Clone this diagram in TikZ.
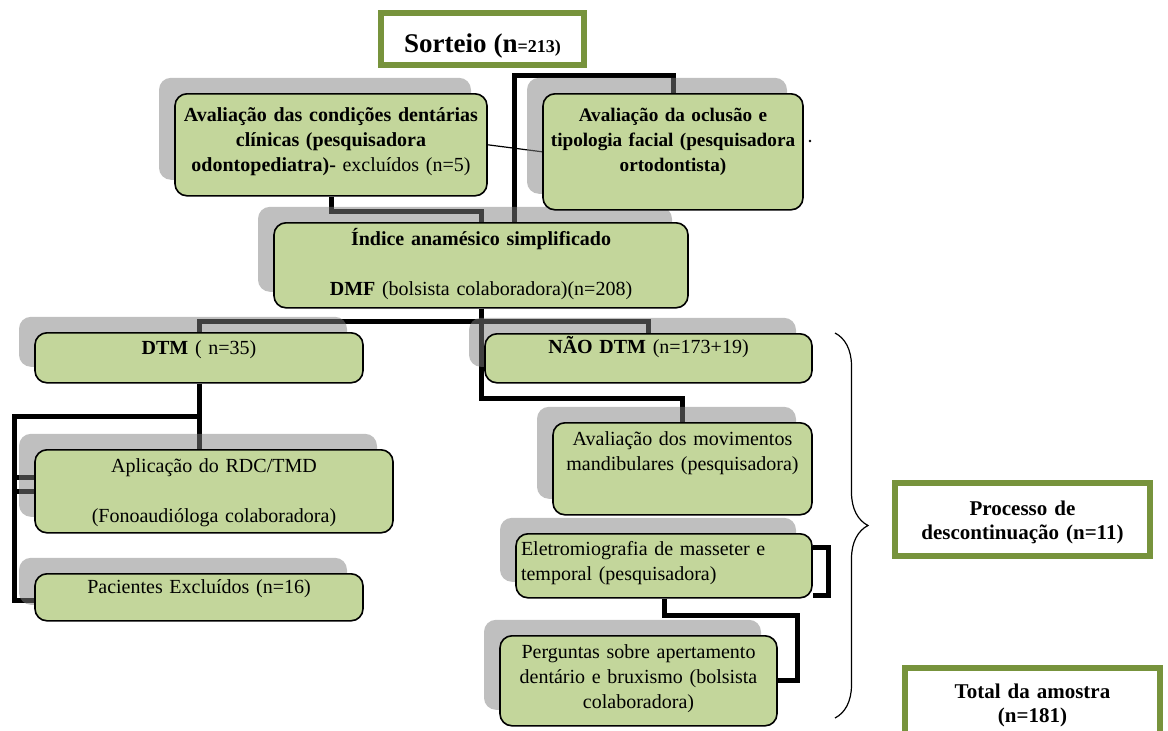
\documentclass[tikz,border=0pt]{standalone}
\usepackage{fontspec}
\setmainfont{Liberation Serif}
\usepackage{tikz}
\usetikzlibrary{calc}
\usetikzlibrary{shadows}
\usetikzlibrary{decorations.pathreplacing}

\definecolor{boxgreen}{RGB}{195,214,155}
\definecolor{framegreen}{RGB}{119,147,60}

\pgfdeclarelayer{background}
\pgfsetlayers{background,main}

\begin{document}
\begin{tikzpicture}[x=1pt, y=-1pt, font=\fontsize{20}{25}\selectfont,
        box_style/.style={draw=black, line width=1.6pt, rounded corners=12pt, fill=boxgreen,
            anchor=north, align=center, inner xsep=3pt, inner ysep=0pt,
            general shadow={fill=black!50, opacity=0.5, shadow xshift=-16pt, shadow yshift=16pt}},
        green_box_style/.style={draw=framegreen, line width=6pt, fill=white, anchor=north,
            align=center, inner xsep=3pt, inner ysep=0pt, font=\fontsize{21}{24}\selectfont\bfseries},
        link_style/.style={draw=black, line width=5pt},
        thin_link_style/.style={draw=black, line width=1.2pt},
        brace_style/.style={draw=black, line width=1.2pt, decorate, decoration={brace, amplitude=33pt}}]

        \useasboundingbox (0,0) rectangle (1168,731);
        \clip (0,0) rectangle (1168,731);

        \node [green_box_style, text width=197pt, text height=39pt, text depth=13pt](sorteio) at (482.5,10)
            {{\fontsize{27}{30}\selectfont Sorteio (n}{\fontsize{18}{20}\selectfont =213)}};

        \node [box_style, text width=408pt, text height=23pt, text depth=62pt](indice) at (481,222)
            {\textbf{Índice anamésico simplificado}\\[25pt]\textbf{DMF} (bolsista colaboradora)(n=208)};

        \node [box_style, text width=306pt, text height=28pt, text depth=74pt](condicoes) at (331,93)
            {\textbf{Avaliação das condições dentárias}\\ \textbf{clínicas (pesquisadora}\\ \textbf{odontopediatra)-} excluídos (n=5)};

        \node [box_style, inner xsep=0pt, text width=260pt, text height=28pt, text depth=88pt,
            font=\fontsize{19.2}{25}\selectfont](oclusao) at (673,93)
            {\textbf{Avaliação da oclusão e}\\ \textbf{tipologia facial (pesquisadora}\\ \textbf{ortodontista)}};

        \node [box_style, text width=322pt, text height=22pt, text depth=28pt](dtm) at (199,332)
            {\textbf{DTM} ( n=35)};

        \node [box_style, text width=321pt, text height=20pt, text depth=29pt](naodtm) at (648.5,333)
            {\textbf{NÃO DTM} (n=173+19)};

        \node [box_style, text width=352pt, text height=23pt, text depth=60pt](aplicacao) at (214,449)
            {Aplicação do RDC/TMD\\[25pt](Fonoaudióloga colaboradora)};

        \node [box_style, text width=322pt, text height=20pt, text depth=27pt](pacientes) at (199,573)
            {Pacientes Excluídos (n=16)};

        \node [box_style, text width=253pt, text height=23pt, text depth=69pt](movimentos) at (682.5,422)
            {Avaliação dos movimentos\\ mandibulares (pesquisadora)};

        \node [box_style, align=left, inner xsep=5pt, text width=286pt, text height=22pt, text depth=42pt](eletro) at (664,533)
            {Eletromiografia de masseter e\\ temporal (pesquisadora)};

        \node [box_style, text width=271pt, text height=23pt, text depth=67pt](perguntas) at (638.5,635)
            {Perguntas sobre apertamento\\ dentário e bruxismo (bolsista\\ colaboradora)};

        \node [green_box_style, text width=249pt, text height=32pt, text depth=41pt](processo) at (1022.5,480)
            {Processo de\\ descontinuação (n=11)};

        \node [green_box_style, text width=249pt, text height=30pt, text depth=50pt](total) at (1032.5,665)
            {Total da amostra\\ (n=181)};

        \coordinate (ramo) at ([xshift=31.5pt,yshift=-7pt]sorteio.south);

        \begin{pgfonlayer}{background}
        \draw [link_style] (ramo |- indice.north) -- (ramo) -| (oclusao.north);
        \draw [link_style] (condicoes.south) -- ++(0,15) -| (indice.north);
        \draw [thin_link_style] (condicoes.east) -- (oclusao.west);
        \draw [link_style] (indice.south) -- ++(0,13) coordinate (nivel);
        \draw [link_style] (dtm.north) |- (nivel) -| (naodtm.north);
        \draw [link_style] (indice.south) -- ++(0,90) -| (movimentos.north);
        \draw [link_style] (dtm.south) -- (dtm.south |- aplicacao.north);
        \draw [link_style] (dtm.south) ++(0,33) -| ([xshift=-20pt,yshift=-3pt]pacientes.west) -- ([yshift=-3pt]pacientes.west);
        \draw [link_style] ([yshift=14pt]aplicacao.west) -- ++(-20,0);
        \draw [link_style] (aplicacao.west) -- ++(-20,0);
        \draw [link_style] ([yshift=18pt]eletro.east) -- ++(16,0) |- ([yshift=-30pt]eletro.east);
        \draw [link_style] (eletro.south) -- ++(0,17) -| ([xshift=20pt]perguntas.east) -- (perguntas.east);
        \end{pgfonlayer}

        \fill (810,141) circle (1.3pt);

        \draw [brace_style] (835,333) -- (835,718);

\end{tikzpicture}
\end{document}
